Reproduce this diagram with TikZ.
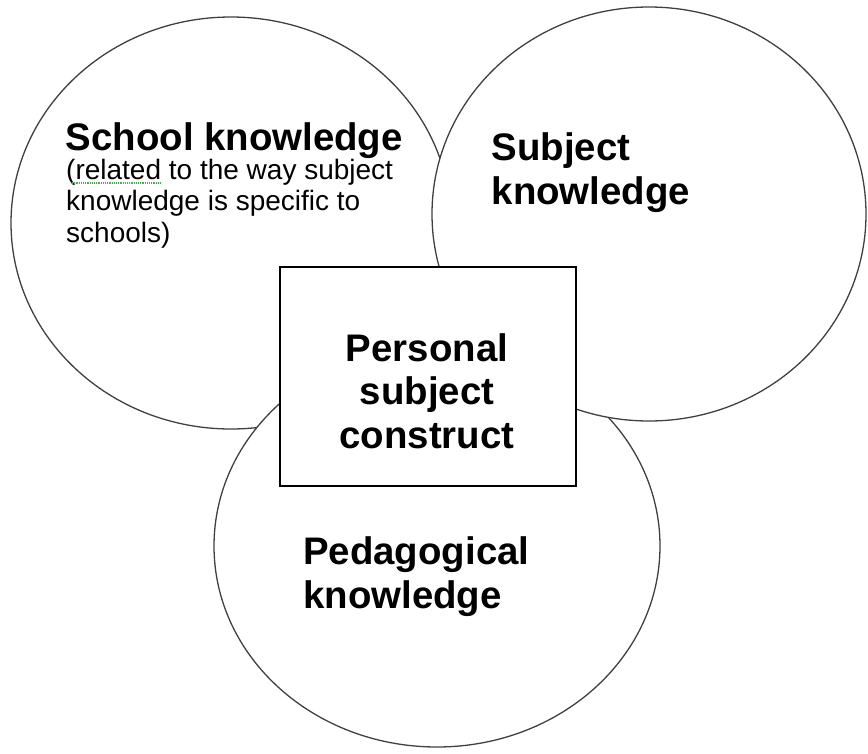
\documentclass[tikz,border=0pt]{standalone}
\usepackage{fontspec}
\setmainfont{Liberation Sans}
\usetikzlibrary{shapes.geometric,positioning}

\definecolor{spellgreen}{RGB}{70,175,70}

\tikzset{
  bubble/.style={ellipse, draw=black!75, fill=white, line width=1.3pt, inner sep=0pt},
  heading/.style={font=\bfseries\fontsize{38.4}{43.5}\selectfont, align=left, inner sep=0pt},
  remark/.style={font=\fontsize{28}{31.5}\selectfont, align=left, inner sep=0pt}
}

\begin{document}
\begin{tikzpicture}[x=1pt, y=-1pt]
    \useasboundingbox (0,0) rectangle (868,753);
    % the three knowledge circles
    \node[bubble, minimum width=440pt, minimum height=412pt] (school) at (231,223) {};
    \node[bubble, minimum width=446pt, minimum height=402pt] (pedagogy) at (437,546) {};
    \node[bubble, minimum width=434pt, minimum height=414pt] (subject) at (649,214) {};
    % centre box
    \node[draw, fill=white, line width=1.6pt, minimum width=296pt, minimum height=219pt] (construct) at (428,376.5) {};

    % base anchor = baseline of the last line
    \node[heading, anchor=base west] (schooltitle) at (65.5,150) {School knowledge};
    \node[remark, anchor=base west] (schoolnote) at (66,242) {(related to the way subject\\knowledge is specific to\\schools)};
    \draw[spellgreen, densely dotted, line width=1.2pt] (72,183) -- (162,183);
    \node[heading, anchor=base west] (subjecttitle) at (491.5,204) {Subject\\knowledge};
    \node[heading, align=center, anchor=base] (constructtitle) at (427,448) {Personal\\subject\\construct};
    \node[heading, anchor=base west] (pedagogytitle) at (303,608) {Pedagogical\\knowledge};
  \end{tikzpicture}
\end{document}
